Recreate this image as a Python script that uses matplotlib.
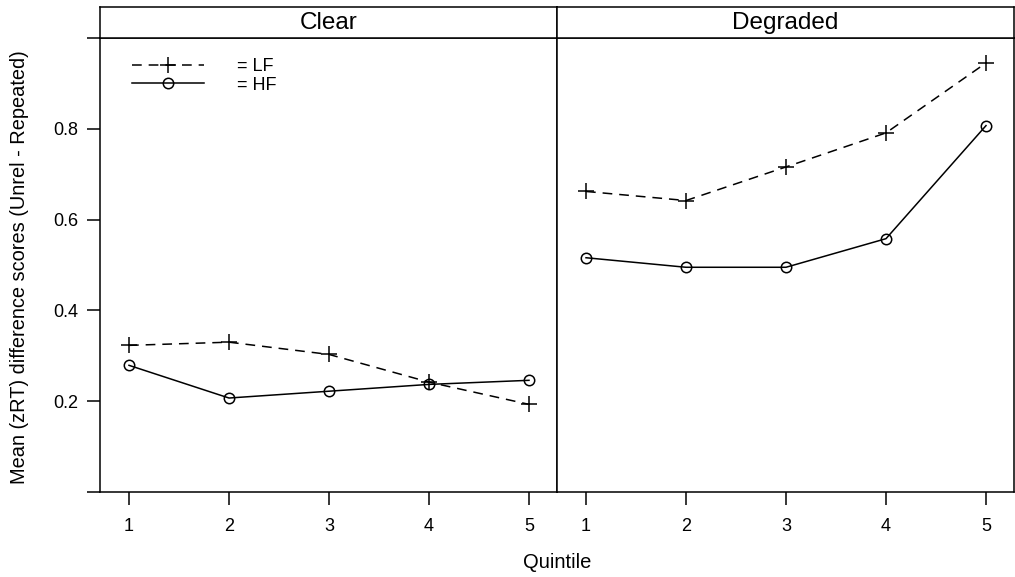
import matplotlib
matplotlib.use('Agg')
import matplotlib.pyplot as plt

plt.rcParams['font.family'] = ['Liberation Sans', 'DejaVu Sans']
plt.rcParams['lines.scale_dashes'] = False

quintiles = [1, 2, 3, 4, 5]
panels = ['Clear', 'Degraded']
# mean zRT difference scores per panel
lf_scores = {
    'Clear': [0.323, 0.330, 0.303, 0.242, 0.193],
    'Degraded': [0.662, 0.642, 0.716, 0.791, 0.945],
}
hf_scores = {
    'Clear': [0.279, 0.207, 0.222, 0.237, 0.246],
    'Degraded': [0.516, 0.495, 0.495, 0.558, 0.807],
}
y_ticks = [0.0, 0.2, 0.4, 0.6, 0.8, 1.0]
y_ticklabels = ['', '0.2', '0.4', '0.6', '0.8', '']

W, H = 1015, 577
fig = plt.figure(figsize=(W / 100, H / 100), dpi=100)

left_px = [100, 557]
panel_w = 457
top_px, bottom_px, strip_top = 38, 492, 7

for i, name in enumerate(panels):
    x0 = left_px[i]
    ax = fig.add_axes([x0 / W, (H - bottom_px) / H, panel_w / W, (bottom_px - top_px) / H])
    strip = fig.add_axes([x0 / W, (H - top_px) / H, panel_w / W, (top_px - strip_top) / H])
    strip.set_xticks([])
    strip.set_yticks([])
    strip.text(0.5, 0.48, name, ha='center', va='center', fontsize=17.5, transform=strip.transAxes)
    for s in strip.spines.values():
        s.set_linewidth(1.1)

    lf_line, = ax.plot(quintiles, lf_scores[name], color='black', lw=1.1, dashes=(7, 5),
                       marker='+', markersize=12, markeredgewidth=1.1)
    hf_line, = ax.plot(quintiles, hf_scores[name], color='black', lw=1.1,
                       marker='o', markersize=7.5, markerfacecolor='none', markeredgewidth=1.1)
    ax.set_xlim(0.71, 5.28)
    ax.set_ylim(0.0, 1.0)
    ax.set_xticks(quintiles)
    ax.tick_params(axis='both', direction='out', length=9.4, width=1.1, labelsize=13)
    ax.tick_params(axis='x', pad=9)
    ax.tick_params(axis='y', pad=6)
    if i == 0:
        ax.set_yticks(y_ticks)
        ax.set_yticklabels(y_ticklabels)
        ax.legend([lf_line, hf_line], ['= LF', '= HF'], loc='upper left',
                  bbox_to_anchor=((132 - x0) / panel_w, (bottom_px - 58) / (bottom_px - top_px)),
                  borderpad=0, borderaxespad=0, frameon=False, numpoints=1,
                  handlelength=4.0, handletextpad=1.8, fontsize=13, labelspacing=0.1)
    else:
        ax.set_yticks([])
    for s in ax.spines.values():
        s.set_linewidth(1.1)

fig.text(557 / W, 1 - 563 / H, 'Quintile', ha='center', va='center', fontsize=14.5)
fig.text(20 / W, 1 - 267 / H, 'Mean (zRT) difference scores (Unrel - Repeated)',
         rotation=90, ha='center', va='center', fontsize=14.4)

fig.savefig('out.png', dpi=100)
